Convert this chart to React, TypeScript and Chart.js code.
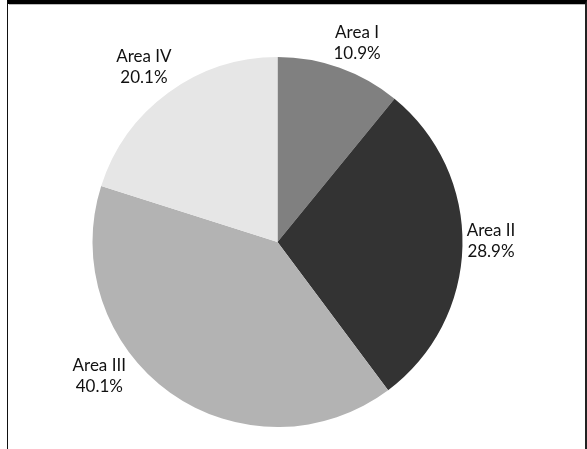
import React, { useEffect, useRef } from "react";
import { Chart, registerables } from "chart.js";

Chart.register(...registerables);

const categories = ["Area I", "Area II", "Area III", "Area IV"];
const shares = [10.9, 28.9, 40.1, 20.1];
const sliceColors = ["#808080", "#333333", "#b3b3b3", "#e6e6e6"];
// label placement tweaks: [angle shift in degrees, distance beyond the rim in px]
const labelTweaks: [number, number][] = [
  [2.2, 29],
  [-1.4, 28.5],
  [17.6, 38],
  [-1.2, 35],
];

const outerLabels = {
  id: "outerLabels",
  afterDatasetsDraw(chart: any) {
    const meta = chart.getDatasetMeta(0);
    const ctx = chart.ctx;
    ctx.save();
    ctx.font = '17px Lato, "Noto Sans", sans-serif';
    ctx.fillStyle = "#111";
    ctx.textAlign = "center";
    ctx.textBaseline = "middle";
    meta.data.forEach((arc: any, i: number) => {
      const { x, y, startAngle, endAngle, outerRadius } = arc.getProps(
        ["x", "y", "startAngle", "endAngle", "outerRadius"],
        true
      );
      const [shift, extra] = labelTweaks[i];
      const a = (startAngle + endAngle) / 2 + (shift * Math.PI) / 180;
      const d = outerRadius + extra;
      const lx = x + Math.cos(a) * d;
      const ly = y + Math.sin(a) * d;
      ctx.fillText(categories[i], lx, ly - 10.5);
      ctx.fillText(shares[i].toFixed(1) + "%", lx, ly + 10.5);
    });
    ctx.restore();
  },
};

export default function App() {
  const ref = useRef<HTMLCanvasElement | null>(null);
  useEffect(() => {
    if (!ref.current) return;
    const chart = new Chart(ref.current, {
      type: "pie",
      data: {
        labels: categories,
        datasets: [
          {
            data: shares,
            backgroundColor: sliceColors,
            borderColor: sliceColors,
            borderWidth: 0,
          },
        ],
      },
      options: {
        animation: false,
        responsive: false,
        maintainAspectRatio: false,
        layout: { padding: { left: 84.5, right: 122.5, top: 52, bottom: 22 } },
        plugins: {
          legend: { display: false },
          tooltip: { enabled: false },
        },
      },
      plugins: [outerLabels],
    });
    return () => chart.destroy();
  }, []);

  return (
    <div
      style={{
        position: "absolute",
        left: 7,
        top: 0,
        width: 577,
        height: 460,
        borderTop: "4px solid #000",
        borderLeft: "1px solid #111",
        borderRight: "2px solid #222",
        background: "#fff",
      }}
    >
      <div style={{ height: 1, background: "#bbb", marginLeft: 1 }} />
      <canvas ref={ref} width={577} height={444} style={{ display: "block" }} />
    </div>
  );
}
